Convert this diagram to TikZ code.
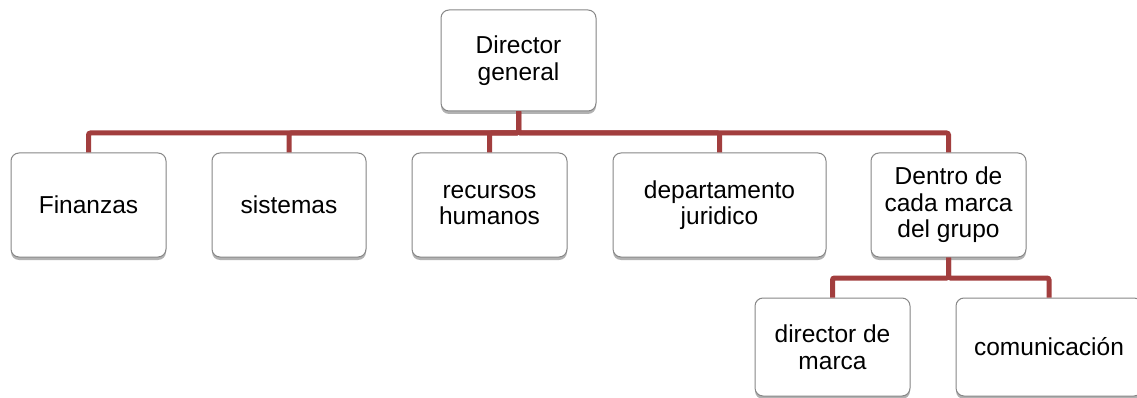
\documentclass[tikz,border=0pt]{standalone}
\usepackage{fontspec}
\setmainfont{Liberation Sans}
\usetikzlibrary{shadows}
\definecolor{connred}{RGB}{162,62,62}
\definecolor{boxgray}{RGB}{135,135,135}
\tikzset{
  orgbox/.style={draw=boxgray, line width=1pt, fill=white, rounded corners=8pt,
    align=center, inner sep=2pt, font=\fontsize{24.5}{26.5}\selectfont,
    drop shadow={shadow xshift=0pt, shadow yshift=-3pt, opacity=0.3, fill=black}},
  conn/.style={draw=connred, line width=5pt, rounded corners=2pt}
}
\begin{document}
\begin{tikzpicture}[x=1pt,y=1pt]
\useasboundingbox (0,0) rectangle (1137,-398);
\fill[white] (0,0) rectangle (1137,-398);
% coordinates for bars
\coordinate (bar1) at (0,-133);
\coordinate (bar2) at (0,-278);
% nodes
\node[orgbox, minimum width=155, minimum height=101] (dg) at (518.5,-60.5) {Director\\general};
\node[orgbox, minimum width=155, minimum height=104] (fin) at (88.5,-205) {Finanzas};
\node[orgbox, minimum width=154, minimum height=104] (sis) at (289,-205) {sistemas};
\node[orgbox, minimum width=155, minimum height=104] (rh) at (489.5,-205) {recursos\\humanos};
\node[orgbox, minimum width=213, minimum height=104] (dep) at (719.5,-205) {departamento\\juridico};
\node[orgbox, minimum width=155, minimum height=104] (dent) at (948.5,-205) {Dentro de\\cada marca\\del grupo};
\node[orgbox, minimum width=155, minimum height=98] (dm) at (832.5,-347) {director de\\marca};
\node[orgbox, minimum width=186, minimum height=98] (com) at (1049,-347) {comunicación};
% connectors
\draw[conn] (dg.south) -- (dg.south |- bar1) -| (fin.north);
\draw[conn] (dg.south) -- (dg.south |- bar1) -| (sis.north);
\draw[conn] (dg.south) -- (dg.south |- bar1) -| (rh.north);
\draw[conn] (dg.south) -- (dg.south |- bar1) -| (dep.north);
\draw[conn] (dg.south) -- (dg.south |- bar1) -| (dent.north);
\draw[conn] (dent.south) -- (dent.south |- bar2) -| (dm.north);
\draw[conn] (dent.south) -- (dent.south |- bar2) -| (com.north);
\end{tikzpicture}
\end{document}
